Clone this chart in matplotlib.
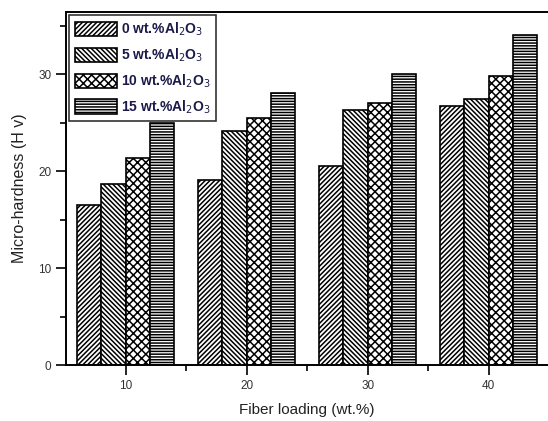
import numpy as np
import matplotlib
matplotlib.use('Agg')
import matplotlib.pyplot as plt
from matplotlib.ticker import MultipleLocator

plt.rcParams['font.family'] = ['Liberation Sans', 'DejaVu Sans']
plt.rcParams['hatch.linewidth'] = 1.1

## Data
fiber_loading = [10, 20, 30, 40]
series_labels = ['0 wt.%Al$_2$O$_3$', '5 wt.%Al$_2$O$_3$',
                 '10 wt.%Al$_2$O$_3$', '15 wt.%Al$_2$O$_3$']
hardness_0 = [16.5, 19.1, 20.5, 26.7]
hardness_5 = [18.7, 24.1, 26.3, 27.4]
hardness_10 = [21.3, 25.5, 27.0, 29.8]
hardness_15 = [25.0, 28.0, 30.0, 34.0]

series = [hardness_0, hardness_5, hardness_10, hardness_15]
hatches = ['///////', '\\\\\\\\\\\\\\', 'xxxx', '------']

fig = plt.figure(figsize=(5.48, 4.21), dpi=100)
ax = fig.add_axes([0.1204, 0.133, 0.8796, 0.8385])

width = 2.0
offsets = [-3, -1, 1, 3]
x = np.array(fiber_loading, dtype=float)
for vals, off, h, lab in zip(series, offsets, hatches, series_labels):
    ax.bar(x + off * width / 2, vals, width=width, facecolor='white',
           edgecolor='black', hatch=h, linewidth=1.2, label=lab)

ax.set_xlim(5.07, 44.9)
ax.set_ylim(0, 36.4)
ax.set_xticks(fiber_loading)
ax.xaxis.set_minor_locator(MultipleLocator(5))
ax.yaxis.set_major_locator(MultipleLocator(10))
ax.yaxis.set_minor_locator(MultipleLocator(5))
ax.tick_params(which='major', direction='out', length=7, width=1.2,
               labelsize=8.5, colors='black', labelcolor='#333333')
ax.tick_params(which='minor', direction='out', length=4, width=1.2)
for s in ax.spines.values():
    s.set_linewidth(1.4)
ax.spines['right'].set_visible(False)

ax.set_xlabel('Fiber loading (wt.%)', fontsize=11, labelpad=8,
              color='#222222')
ax.set_ylabel('Micro-hardness (H v)', fontsize=11.5, labelpad=8,
              color='#222222')

leg = ax.legend(loc='upper left', prop={'size': 10, 'weight': 'bold'},
                frameon=True, fancybox=False, edgecolor='black',
                handlelength=3.0, handleheight=1.2, handletextpad=0.3,
                borderaxespad=0.25, borderpad=0.4, labelspacing=0.6)
leg.get_frame().set_linewidth(1.2)
for t in leg.get_texts():
    t.set_color('#1a1a4a')

fig.savefig('out.png', dpi=100)
